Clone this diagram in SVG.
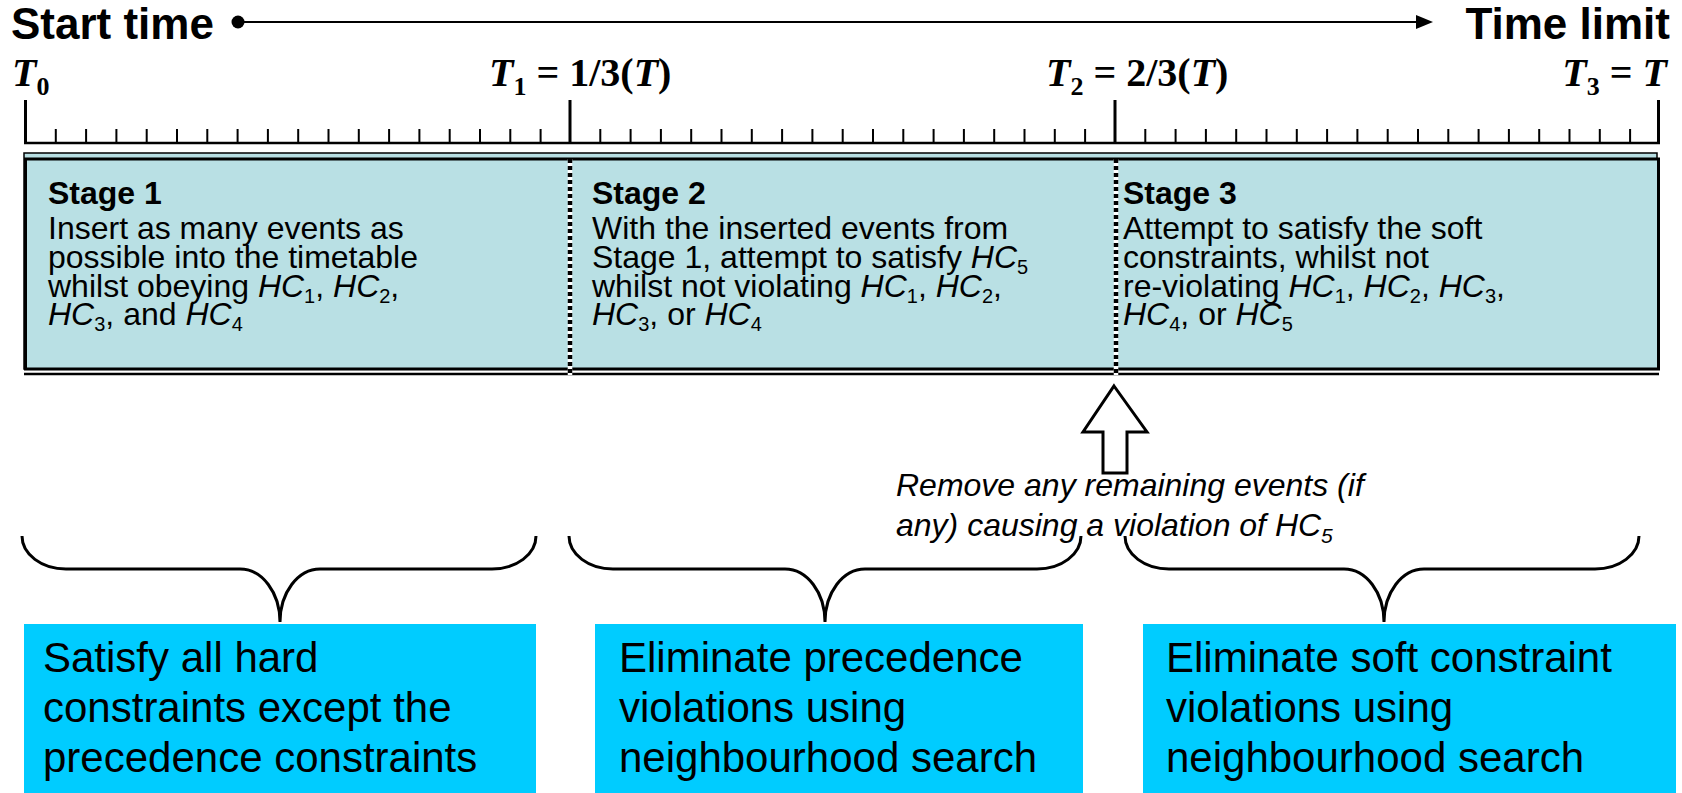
<svg xmlns="http://www.w3.org/2000/svg" width="1682" height="793" viewBox="0 0 1682 793">
<style>
.hdr{font-family:"Liberation Sans",Arial,sans-serif;font-weight:bold;font-size:44px;fill:#000}
.tl{font-family:"Liberation Serif","Times New Roman",serif;font-weight:bold;font-size:40px;fill:#000}
.st{font-family:"Liberation Sans",Arial,sans-serif;font-size:32px;fill:#000}
.note{font-family:"Liberation Sans",Arial,sans-serif;font-size:32px;font-style:italic;fill:#000}
.goal{font-family:"Liberation Sans",Arial,sans-serif;font-size:42px;fill:#000}
.i{font-style:italic}
.b{font-weight:bold}
.brace{fill:none;stroke:#000;stroke-width:3}
.tick{stroke:#000;stroke-width:2}
.major{stroke:#000;stroke-width:3}
</style>
<rect width="1682" height="793" fill="#fff"/>
<g id="timeline">
<text class="hdr" x="11" y="39">Start time</text>
<text class="hdr" x="1670" y="39" text-anchor="end" font-size="43">Time limit</text>
<line x1="238" y1="22" x2="1418" y2="22" stroke="#000" stroke-width="2"/>
<circle cx="238" cy="22" r="6.5" fill="#000"/>
<polygon points="1416,15 1433,22 1416,29" fill="#000"/>
</g>
<g id="ruler">
<text class="tl" x="12" y="86"><tspan class="i">T</tspan><tspan font-size="26" dy="9">0</tspan></text>
<text class="tl" x="489" y="86"><tspan class="i">T</tspan><tspan font-size="26" dy="9">1</tspan><tspan dy="-9"> = 1/3(</tspan><tspan class="i">T</tspan>)</text>
<text class="tl" x="1046" y="86"><tspan class="i">T</tspan><tspan font-size="26" dy="9">2</tspan><tspan dy="-9"> = 2/3(</tspan><tspan class="i">T</tspan>)</text>
<text class="tl" x="1667" y="86" text-anchor="end"><tspan class="i">T</tspan><tspan font-size="26" dy="9">3</tspan><tspan dy="-9"> = </tspan><tspan class="i">T</tspan></text>
<line x1="24" y1="143" x2="1660" y2="143" stroke="#000" stroke-width="2.5"/>
<path class="major" d="M25.5 100V144 M570 100V144 M1115 100V144 M1658.5 100V144"/>
<path class="tick" d="M55.8 129V143 M86.1 129V143 M116.4 129V143 M146.7 129V143 M177 129V143 M207.3 129V143 M237.6 129V143 M267.9 129V143 M298.2 129V143 M328.5 129V143 M358.8 129V143 M389.1 129V143 M419.4 129V143 M449.7 129V143 M480 129V143 M510.3 129V143 M540.6 129V143
M600.3 129V143 M630.6 129V143 M660.9 129V143 M691.2 129V143 M721.5 129V143 M751.8 129V143 M782.1 129V143 M812.4 129V143 M842.7 129V143 M873 129V143 M903.3 129V143 M933.6 129V143 M963.9 129V143 M994.2 129V143 M1024.5 129V143 M1054.8 129V143 M1085.1 129V143
M1145.3 129V143 M1175.6 129V143 M1205.9 129V143 M1236.2 129V143 M1266.5 129V143 M1296.8 129V143 M1327.1 129V143 M1357.4 129V143 M1387.7 129V143 M1418 129V143 M1448.3 129V143 M1478.6 129V143 M1508.9 129V143 M1539.2 129V143 M1569.5 129V143 M1599.8 129V143 M1630.1 129V143"/>
</g>
<g id="stages">
<rect x="24" y="153" width="1633" height="216" fill="#b8dfe3" stroke="#000" stroke-width="1.5"/>
<rect x="25.5" y="159" width="1633" height="210" fill="#b9e0e4" stroke="#000" stroke-width="3"/>
<line x1="24" y1="374" x2="1659" y2="374" stroke="#000" stroke-width="2.5"/>
<g stroke-width="4.5">
<line x1="570" y1="159" x2="570" y2="375" stroke="#fff"/>
<line x1="570" y1="159" x2="570" y2="375" stroke="#000" stroke-dasharray="4 3"/>
<line x1="1116" y1="159" x2="1116" y2="375" stroke="#fff"/>
<line x1="1116" y1="159" x2="1116" y2="375" stroke="#000" stroke-dasharray="4 3"/>
</g>
</g>
<g id="stage1">
<text class="st"><tspan x="48" y="204" class="b">Stage 1</tspan><tspan x="48" y="239">Insert as many events as</tspan><tspan x="48" y="268">possible into the timetable</tspan><tspan x="48" y="297">whilst obeying <tspan class="i">HC</tspan><tspan font-size="20" dy="6">1</tspan><tspan dy="-6">, </tspan><tspan class="i">HC</tspan><tspan font-size="20" dy="6">2</tspan><tspan dy="-6">,</tspan></tspan><tspan x="48" y="325"><tspan class="i">HC</tspan><tspan font-size="20" dy="6">3</tspan><tspan dy="-6">, and </tspan><tspan class="i">HC</tspan><tspan font-size="20" dy="6">4</tspan></tspan></text>
</g>
<g id="stage2">
<text class="st"><tspan x="592" y="204" class="b">Stage 2</tspan><tspan x="592" y="239">With the inserted events from</tspan><tspan x="592" y="268">Stage 1, attempt to satisfy <tspan class="i">HC</tspan><tspan font-size="20" dy="6">5</tspan></tspan><tspan x="592" y="297">whilst not violating <tspan class="i">HC</tspan><tspan font-size="20" dy="6">1</tspan><tspan dy="-6">, </tspan><tspan class="i">HC</tspan><tspan font-size="20" dy="6">2</tspan><tspan dy="-6">,</tspan></tspan><tspan x="592" y="325"><tspan class="i">HC</tspan><tspan font-size="20" dy="6">3</tspan><tspan dy="-6">, or </tspan><tspan class="i">HC</tspan><tspan font-size="20" dy="6">4</tspan></tspan></text>
</g>
<g id="stage3">
<text class="st"><tspan x="1123" y="204" class="b">Stage 3</tspan><tspan x="1123" y="239">Attempt to satisfy the soft</tspan><tspan x="1123" y="268">constraints, whilst not</tspan><tspan x="1123" y="297">re-violating <tspan class="i">HC</tspan><tspan font-size="20" dy="6">1</tspan><tspan dy="-6">, </tspan><tspan class="i">HC</tspan><tspan font-size="20" dy="6">2</tspan><tspan dy="-6">, </tspan><tspan class="i">HC</tspan><tspan font-size="20" dy="6">3</tspan><tspan dy="-6">,</tspan></tspan><tspan x="1123" y="325"><tspan class="i">HC</tspan><tspan font-size="20" dy="6">4</tspan><tspan dy="-6">, or </tspan><tspan class="i">HC</tspan><tspan font-size="20" dy="6">5</tspan></tspan></text>
</g>
<g id="removal">
<path d="M1114 386 L1147 432 L1127 432 L1127 473 L1103 473 L1103 432 L1083 432 Z" fill="#fff" stroke="#000" stroke-width="3" stroke-linejoin="miter"/>
<text class="note"><tspan x="896" y="496">Remove any remaining events (if</tspan><tspan x="896" y="536">any) causing a violation of HC<tspan font-size="21" dy="7">5</tspan></tspan></text>
</g>
<g id="connectors">
<path class="brace" d="M22 536 A44 33 0 0 0 66 569 L240 569 A40 53 0 0 1 280 622 A40 53 0 0 1 320 569 L492 569 A44 33 0 0 0 536 536"/>
<path class="brace" d="M569 536 A44 33 0 0 0 613 569 L785 569 A40 53 0 0 1 825 622 A40 53 0 0 1 865 569 L1037 569 A44 33 0 0 0 1081 536"/>
<path class="brace" d="M1125 536 A44 33 0 0 0 1169 569 L1344 569 A40 53 0 0 1 1384 622 A40 53 0 0 1 1424 569 L1595 569 A44 33 0 0 0 1639 536"/>
</g>
<g id="goal1">
<rect x="24" y="624" width="512" height="169" fill="#00ccff"/>
<text class="goal"><tspan x="43" y="672">Satisfy all hard</tspan><tspan x="43" y="722">constraints except the</tspan><tspan x="43" y="772">precedence constraints</tspan></text>
</g>
<g id="goal2">
<rect x="595" y="624" width="488" height="169" fill="#00ccff"/>
<text class="goal"><tspan x="619" y="672">Eliminate precedence</tspan><tspan x="619" y="722">violations using</tspan><tspan x="619" y="772">neighbourhood search</tspan></text>
</g>
<g id="goal3">
<rect x="1143" y="624" width="533" height="169" fill="#00ccff"/>
<text class="goal"><tspan x="1166" y="672">Eliminate soft constraint</tspan><tspan x="1166" y="722">violations using</tspan><tspan x="1166" y="772">neighbourhood search</tspan></text>
</g>
</svg>
